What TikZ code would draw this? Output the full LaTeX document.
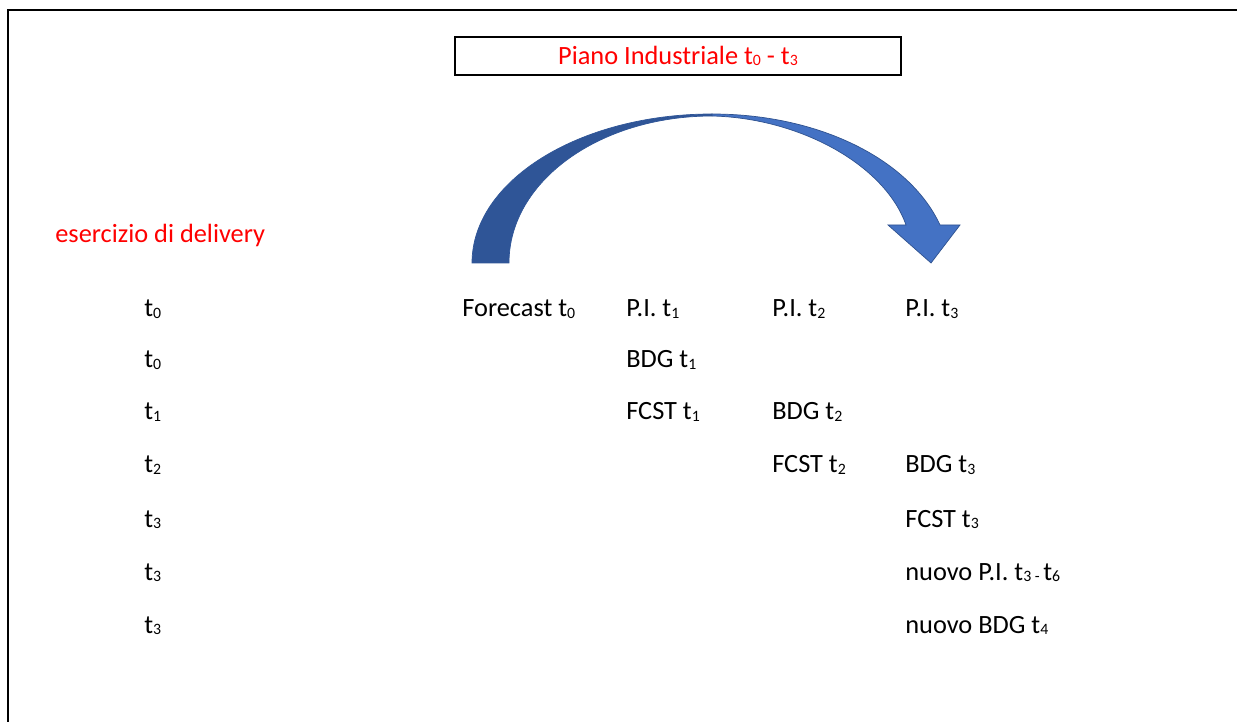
\documentclass[tikz,border=0pt]{standalone}
\usepackage{fontspec}
\setmainfont{Carlito}
\usepackage{xcolor}
\usepackage{tikz}

\definecolor{arcdark}{RGB}{47,85,151}
\definecolor{arclight}{RGB}{68,114,196}
\definecolor{arcline}{RGB}{47,82,143}
\newcommand{\ix}[1]{\raisebox{-0.6pt}{\fontsize{9}{9}\selectfont #1}}

\begin{document}
\begin{tikzpicture}[
    x=0.02cm, y=-0.02cm,
    txt/.style={anchor=base west, inner sep=0pt, font=\fontsize{15}{18}\selectfont},
    note/.style={txt, text=red},
    titlebox/.style={draw, line width=1.1pt, minimum width=8.92cm, minimum height=0.76cm, inner sep=0pt, text=red, font=\fontsize{15}{18}\selectfont},
    frame/.style={line width=1.4pt},
    arcback/.style={fill=arcdark, draw=arcdark, line width=0.4pt},
    arcfront/.style={fill=arclight, draw=arcline, line width=0.4pt}
  ]
    \useasboundingbox (0,0) rectangle (1237,722);
    \draw[frame] (8,722) -- (8,10) -- (1237,10);

    \node[titlebox] (pi) at (678,56) {Piano Industriale t\ix{0} - t\ix{3}};
    \node[note] (deliv) at (55,243) {esercizio di delivery};

    % curved arrow
    \draw[arcback] (472,263) .. controls (472,181) and (579,114) .. (712,114)
      -- (712,116) .. controls (600,116) and (509,181) .. (509,263) -- cycle;
    \draw[arcfront] (712,114) .. controls (820,114) and (910,160) .. (940,225)
      -- (960,225) -- (931,263) -- (888,225) -- (906,225)
      .. controls (885,165) and (800,118) .. (712,116) -- cycle;

    % time column
    \node[txt] (ta) at (144,317) {t\ix{0}};
    \node[txt] (tb) at (144,368) {t\ix{0}};
    \node[txt] (tc) at (144,420) {t\ix{1}};
    \node[txt] (td) at (144,473) {t\ix{2}};
    \node[txt] (te) at (144,527) {t\ix{3}};
    \node[txt] (tf) at (144,580) {t\ix{3}};
    \node[txt] (tg) at (144,633) {t\ix{3}};

    \node[txt] (fc) at (462,317) {Forecast t\ix{0}};
    \node[txt] (pia) at (626,317) {P.I. t\ix{1}};
    \node[txt] (pib) at (772,317) {P.I. t\ix{2}};
    \node[txt] (pic) at (905,317) {P.I. t\ix{3}};
    \node[txt] (bdga) at (626,368) {BDG t\ix{1}};
    \node[txt] (fca) at (626,420) {FCST t\ix{1}};
    \node[txt] (bdgb) at (772,420) {BDG t\ix{2}};
    \node[txt] (fcb) at (772,473) {FCST t\ix{2}};
    \node[txt] (bdgc) at (905,473) {BDG t\ix{3}};
    \node[txt] (fcc) at (905,527) {FCST t\ix{3}};
    \node[txt] (npi) at (905,580) {nuovo P.I. t\ix{3 - }t\ix{6}};
    \node[txt] (nbdg) at (905,633) {nuovo BDG t\ix{4}};
  \end{tikzpicture}
\end{document}
